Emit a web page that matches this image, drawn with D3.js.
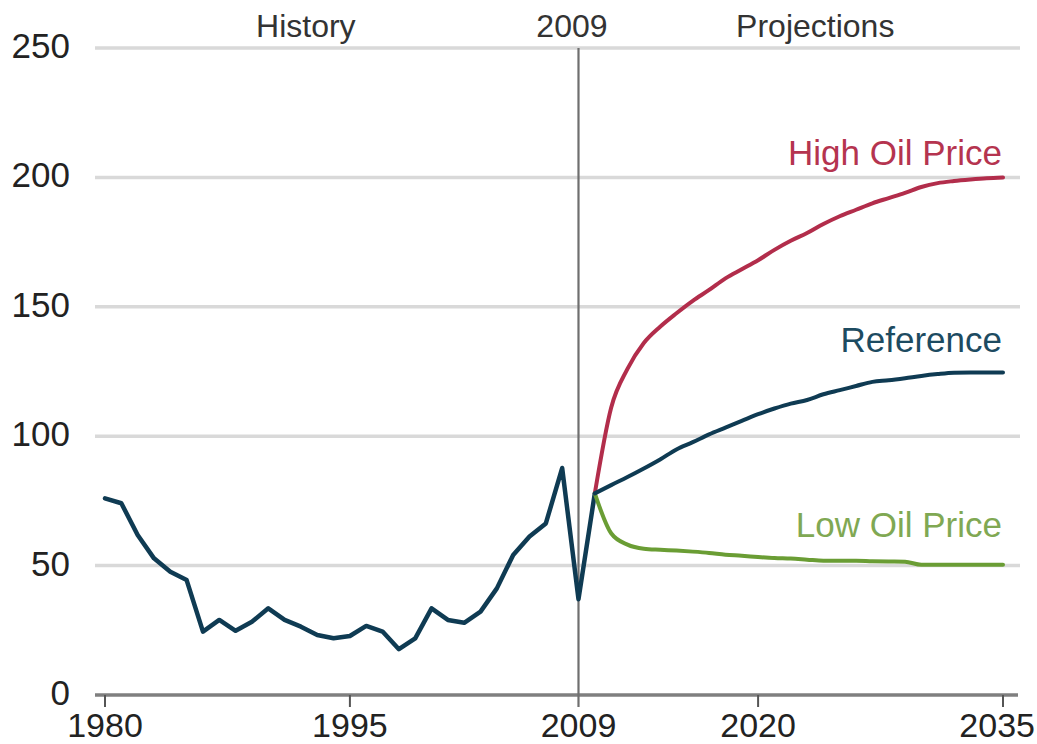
<!DOCTYPE html>
<html lang="en">
    <head>
        <meta charset="UTF-8" />
        <title>Oil price history and projections</title>
        <script src="https://d3js.org/d3.v7.min.js"></script>
        <style>
            body {
                margin: 0;
                background: #fff;
            }
            text {
                font-family: "Liberation Sans", Arial, sans-serif;
            }
            .grid line {
                stroke: #d9d9d9;
                stroke-width: 3.5px;
            }
            .series {
                fill: none;
                stroke-linejoin: round;
                stroke-linecap: round;
            }
        </style>
    </head>
    <body>
        <svg width="1037" height="744"></svg>

        <script>
            // chart size
            const width = 1037;
            const height = 744;

            // history, 1980-2009
            const historyYears = d3.range(1980, 2010);
            const historyValues = [
                76.0, 74.1, 61.8, 52.8, 47.6, 44.4, 24.5, 29.0, 24.8, 28.3,
                33.5, 29.0, 26.4, 23.2, 21.9, 22.8, 26.7, 24.5, 17.7, 21.9,
                33.5, 29.0, 27.9, 32.2, 41.2, 54.1, 61.2, 66.3, 87.7, 37.0,
            ];

            // projections, 2010-2035
            const projYears = d3.range(2010, 2036);
            const referenceValues = [
                77.9, 81.1, 84.2, 87.5, 91.0, 94.9, 97.7, 100.7, 103.3, 105.9,
                108.5, 110.7, 112.6, 114.0, 116.2, 117.8, 119.4, 121.0, 121.6,
                122.4, 123.3, 124.0, 124.5, 124.6, 124.6, 124.6,
            ];
            const highValues = [
                77.9, 111, 126, 136, 142.3, 147.5, 152.3, 156.5, 161, 164.5,
                168, 172, 175.5, 178.5, 182, 185, 187.5, 190, 192, 194,
                196.3, 197.8, 198.6, 199.2, 199.7, 200,
            ];
            const lowValues = [
                77.9, 62.5, 58.1, 56.5, 56.1, 55.8, 55.4, 54.9, 54.2, 53.8,
                53.3, 52.9, 52.7, 52.3, 51.9, 51.9, 51.9, 51.7, 51.6, 51.5,
                50.3, 50.3, 50.3, 50.3, 50.3, 50.3,
            ];

            // axis ticks
            const yTicks = [0, 50, 100, 150, 200, 250];
            const xTicks = [1980, 1995, 2009, 2020, 2035];
            const splitYear = 2009;

            // top headings (text, year at centre)
            const headings = [
                { text: "History", year: 1992.3 },
                { text: "2009", year: 2008.6 },
                { text: "Projections", year: 2023.5 },
            ];

            // scales
            const x = d3.scaleLinear().domain([1980, 2035]).range([105, 1003]);
            const y = d3.scaleLinear().domain([0, 250]).range([695, 48]);

            const svg = d3.select("svg");

            // gridlines
            svg.append("g")
                .attr("class", "grid")
                .selectAll("line")
                .data(yTicks.filter((d) => d > 0))
                .enter()
                .append("line")
                .attr("x1", 95)
                .attr("x2", 1020)
                .attr("y1", (d) => y(d))
                .attr("y2", (d) => y(d));

            // y labels
            svg.append("g")
                .selectAll("text")
                .data(yTicks)
                .enter()
                .append("text")
                .attr("x", 70)
                .attr("y", (d) => y(d) + 10)
                .attr("text-anchor", "end")
                .attr("font-size", 35)
                .attr("fill", "#222")
                .text((d) => d);

            // x axis line
            svg.append("line")
                .attr("x1", 95)
                .attr("x2", 1018)
                .attr("y1", y(0))
                .attr("y2", y(0))
                .attr("stroke", "#7f7f7f")
                .attr("stroke-width", 3.5);

            // x tick marks
            svg.append("g")
                .selectAll("line")
                .data(xTicks.filter((d) => d !== splitYear))
                .enter()
                .append("line")
                .attr("x1", (d) => x(d))
                .attr("x2", (d) => x(d))
                .attr("y1", y(0))
                .attr("y2", y(0) + 12)
                .attr("stroke", "#555")
                .attr("stroke-width", 2);

            // x labels (last one kept inside the right edge)
            const lastTick = xTicks[xTicks.length - 1];
            svg.append("g")
                .selectAll("text")
                .data(xTicks)
                .enter()
                .append("text")
                .attr("x", (d) => (d === lastTick ? width - 2 : x(d)))
                .attr("y", 737)
                .attr("text-anchor", (d) => (d === lastTick ? "end" : "middle"))
                .attr("font-size", 34)
                .attr("fill", "#222")
                .text((d) => d);

            // 2009 divider
            svg.append("line")
                .attr("x1", x(splitYear))
                .attr("x2", x(splitYear))
                .attr("y1", y(250))
                .attr("y2", y(0) + 12)
                .attr("stroke", "#6f6f6f")
                .attr("stroke-width", 2.2);

            // headings
            svg.append("g")
                .selectAll("text")
                .data(headings)
                .enter()
                .append("text")
                .attr("x", (d) => x(d.year))
                .attr("y", 37)
                .attr("text-anchor", "middle")
                .attr("font-size", 32)
                .attr("fill", "#333")
                .text((d) => d.text);

            // line generators
            const lineHist = d3
                .line()
                .x((d) => x(d[0]))
                .y((d) => y(d[1]));
            const lineProj = d3
                .line()
                .curve(d3.curveMonotoneX)
                .x((d) => x(d[0]))
                .y((d) => y(d[1]));

            // history joins the first projection year
            const histPts = historyYears.map((yr, i) => [yr, historyValues[i]]);
            histPts.push([projYears[0], referenceValues[0]]);

            const series = [
                { name: "High Oil Price", values: highValues, color: "#b22d4b", label: "#b5344f", ly: 165 },
                { name: "Low Oil Price", values: lowValues, color: "#6a9d34", label: "#80a853", ly: 537 },
                { name: "Reference", values: referenceValues, color: "#0f3b53", label: "#1d4b61", ly: 352 },
            ];

            svg.append("path")
                .attr("class", "series")
                .attr("d", lineHist(histPts))
                .attr("stroke", "#0f3b53")
                .attr("stroke-width", 4.5);

            series.forEach((s) => {
                svg.append("path")
                    .attr("class", "series")
                    .attr("d", lineProj(projYears.map((yr, i) => [yr, s.values[i]])))
                    .attr("stroke", s.color)
                    .attr("stroke-width", 4);

                svg.append("text")
                    .attr("x", 1002)
                    .attr("y", s.ly)
                    .attr("text-anchor", "end")
                    .attr("font-size", 35)
                    .attr("fill", s.label)
                    .text(s.name);
            });
        </script>
    </body>
</html>
